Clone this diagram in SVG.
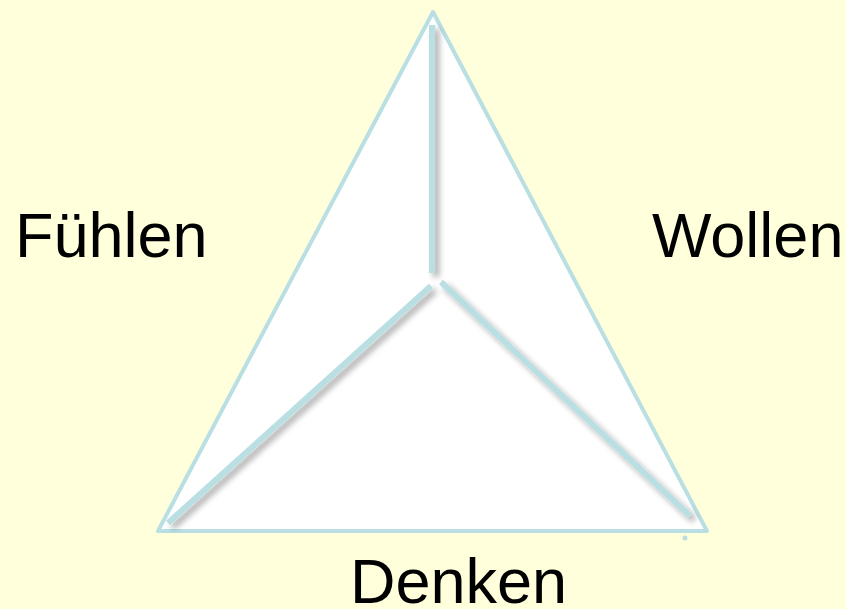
<svg xmlns="http://www.w3.org/2000/svg" width="846" height="609" viewBox="0 0 846 609">
<style>
.lbl{font-family:"Liberation Sans",Arial,sans-serif;font-size:63px;fill:#000}
.edge{stroke:#b9dfe3;stroke-width:6;stroke-linecap:butt;fill:none}
</style>
<defs>
<filter id="sh" x="-20%" y="-20%" width="140%" height="140%">
<feGaussianBlur in="SourceAlpha" stdDeviation="3"/>
<feOffset dx="4" dy="4" result="b"/>
<feComponentTransfer in="b" result="s"><feFuncA type="linear" slope="0.35"/></feComponentTransfer>
<feMerge><feMergeNode in="s"/><feMergeNode in="SourceGraphic"/></feMerge>
</filter>
</defs>
<rect width="846" height="609" fill="#ffffdc"/>
<g id="triangle">
<polygon points="433,12 158,531 707,531" fill="#ffffff" stroke="#b9dfe3" stroke-width="4" stroke-linejoin="round"/>
</g>
<g id="connectors" filter="url(#sh)">
<line class="edge" x1="432" y1="25" x2="432" y2="273"/>
<line class="edge" x1="431" y1="286" x2="168" y2="523"/>
<line class="edge" x1="441" y1="282" x2="690" y2="516"/>
</g>
<circle cx="685" cy="538" r="2.5" fill="#b9dfe3"/>
<g id="fuehlen"><text class="lbl" x="15" y="257">Fühlen</text></g>
<g id="wollen"><text class="lbl" x="652" y="257">Wollen</text></g>
<g id="denken"><text class="lbl" x="350" y="603">Denken</text></g>
</svg>
